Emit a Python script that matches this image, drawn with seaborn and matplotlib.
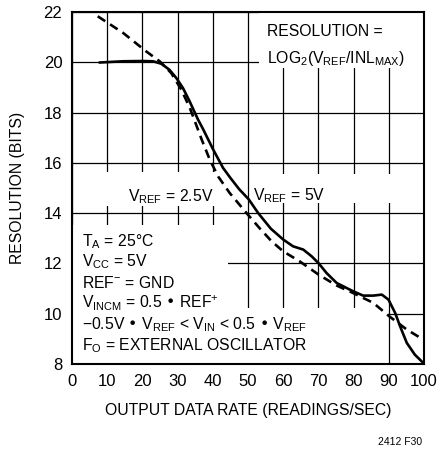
import matplotlib
matplotlib.use("Agg")
import matplotlib.pyplot as plt
from matplotlib.patches import Rectangle
import pandas as pd
import seaborn as sns

# VREF = 5V (solid curve)
rate_5v = [7.8, 14.5, 20, 23, 25.4, 27.7, 29.6, 31.5, 33.4, 35.8, 37.2, 40.1,
           42.9, 45, 47.5, 50.2, 52.9, 56.5, 60, 62.8, 65.7, 68.1, 70.1, 72.3,
           75.2, 79.9, 82.7, 85.6, 88, 89.9, 91.8, 93.2, 95.1, 97.4, 99.8]
bits_5v = [19.99, 20.04, 20.05, 20.04, 19.94, 19.7, 19.38, 18.98, 18.45, 17.72,
           17.35, 16.53, 15.8, 15.4, 14.95, 14.55, 14.0, 13.38, 12.95, 12.68,
           12.55, 12.28, 12.0, 11.62, 11.22, 10.89, 10.72, 10.72, 10.76, 10.56,
           10.03, 9.5, 8.84, 8.37, 8.04]

# VREF = 2.5V (dashed curve)
rate_25v = [7.3, 14.5, 21.1, 24.9, 28.2, 31.1, 33.6, 36.8, 39.1, 41.5, 44.8,
            49.6, 53.3, 56.7, 60, 64.7, 70.1, 75.2, 79.9, 85.6, 90.1, 95.1, 99.8]
bits_25v = [21.83, 21.17, 20.43, 20.04, 19.57, 18.9, 18.14, 16.94, 16.14, 15.46,
            14.8, 14.0, 13.4, 12.88, 12.48, 12.08, 11.55, 11.12, 10.82, 10.43,
            9.9, 9.37, 8.97]

x_ticks = list(range(0, 101, 10))
y_ticks = list(range(8, 23, 2))

notes = [
    r"T$_{A}$ = 25°C",
    r"V$_{CC}$ = 5V",
    r"REF$^{-}$ = GND",
    r"V$_{INCM}$ = 0.5 • REF$^{+}$",
    "\u22120.5V • V$_{REF}$ < V$_{IN}$ < 0.5 • V$_{REF}$",
    r"F$_{O}$ = EXTERNAL OSCILLATOR",
]

sns.set_theme(style="whitegrid")
plt.rcParams["font.family"] = ["Liberation Sans", "DejaVu Sans"]
plt.rcParams["mathtext.default"] = "regular"

fig = plt.figure(figsize=(4.38, 4.49), dpi=100)
ax = fig.add_axes([0.1644, 0.1893, 0.8037, 0.784])

df_5v = pd.DataFrame({"rate": rate_5v, "bits": bits_5v})
df_25v = pd.DataFrame({"rate": rate_25v, "bits": bits_25v})

sns.lineplot(data=df_5v, x="rate", y="bits", ax=ax, color="black",
             linewidth=1.9, sort=False, zorder=3, solid_joinstyle="round")
line = sns.lineplot(data=df_25v, x="rate", y="bits", ax=ax, color="black",
                    linewidth=1.9, sort=False, zorder=3).lines[-1]
line.set_dashes((3.4, 2.2))

ax.set_xlim(0, 100)
ax.set_ylim(8, 22)
ax.set_xticks(x_ticks)
ax.set_yticks(y_ticks)
ax.tick_params(length=0, labelsize=12, colors="black", pad=7)
ax.grid(True, color="black", linewidth=0.9)
for s in ax.spines.values():
    s.set_color("black")
    s.set_linewidth(1.5)

ax.set_xlabel("OUTPUT DATA RATE (READINGS/SEC)", fontsize=11.3, color="black", labelpad=10)
ax.set_ylabel("RESOLUTION (BITS)", fontsize=11.3, color="black", labelpad=13)

# white areas behind annotations that interrupt the grid
for (x0, y0, w, h) in [(53, 19.76, 47, 2.24), (0, 8, 44.3, 5.53), (0, 8, 89.8, 2.23),
                       (3, 14.3, 40, 1.35), (52, 14.4, 48, 1.15)]:
    ax.add_patch(Rectangle((x0, y0), w, h, facecolor="white", edgecolor="none", zorder=1))

tkw = dict(fontsize=11.3, color="black", zorder=4, va="baseline")
ax.text(55.3, 21.05, "RESOLUTION =", **tkw)
ax.text(55.3, 19.96, r"LOG$_{2}$(V$_{REF}$/INL$_{MAX}$)", **tkw)
ax.text(16.0, 14.46, r"V$_{REF}$ = 2.5V", **tkw)
ax.text(51.5, 14.52, r"V$_{REF}$ = 5V", **tkw)

for i, t in enumerate(notes):
    ax.text(2.8, 12.70 - i * 0.83, t, **tkw)

fig.text(0.9635, 0.0145, "2412 F30", fontsize=7.5, ha="right", va="center", color="black")

fig.savefig("out.png", dpi=100)
